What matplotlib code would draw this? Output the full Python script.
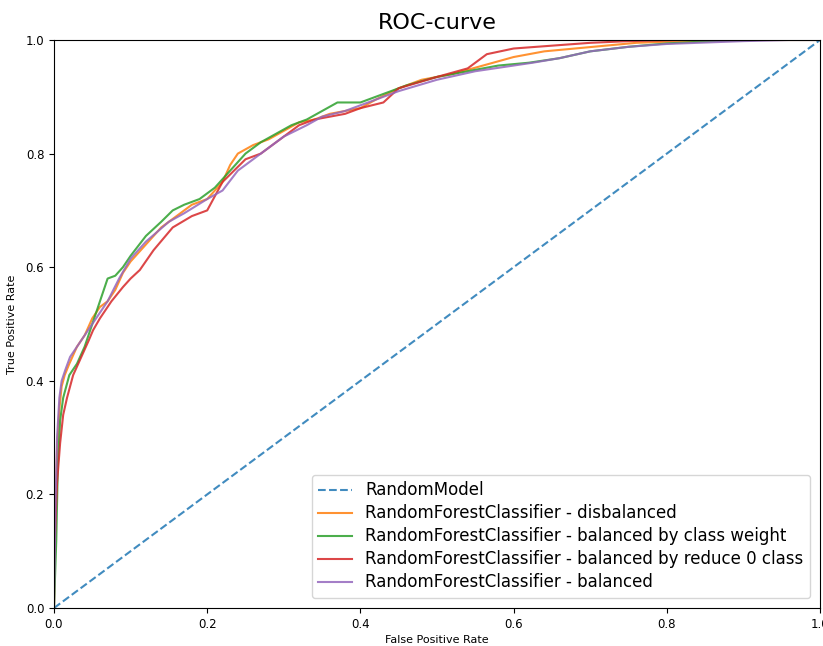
import matplotlib
matplotlib.use("Agg")
import matplotlib.pyplot as plt

# ROC curves
random_fpr = [0.0, 1.0]
random_tpr = [0.0, 1.0]

disb_fpr = [0, 0.002, 0.004, 0.007, 0.01, 0.014, 0.02, 0.03, 0.04, 0.05, 0.06, 0.07, 0.08, 0.09, 0.10,
            0.12, 0.14, 0.16, 0.18, 0.20, 0.22, 0.23, 0.24, 0.26, 0.28, 0.30, 0.32, 0.34, 0.36, 0.38,
            0.40, 0.42, 0.45, 0.48, 0.52, 0.56, 0.60, 0.64, 0.68, 0.72, 0.76, 0.80, 0.85, 0.90, 0.95, 1.0]
disb_tpr = [0, 0.15, 0.28, 0.35, 0.39, 0.41, 0.43, 0.46, 0.48, 0.51, 0.53, 0.54, 0.56, 0.59, 0.61,
            0.64, 0.67, 0.69, 0.71, 0.72, 0.75, 0.78, 0.80, 0.815, 0.825, 0.84, 0.855, 0.86, 0.87, 0.875,
            0.88, 0.895, 0.915, 0.93, 0.94, 0.955, 0.97, 0.98, 0.985, 0.99, 0.995, 0.997, 0.999, 1.0, 1.0, 1.0]

weight_fpr = [0, 0.003, 0.005, 0.008, 0.012, 0.02, 0.03, 0.04, 0.05, 0.06, 0.07, 0.08, 0.09, 0.10,
              0.12, 0.14, 0.155, 0.17, 0.19, 0.21, 0.23, 0.25, 0.27, 0.29, 0.31, 0.33, 0.35, 0.37,
              0.40, 0.43, 0.46, 0.50, 0.54, 0.58, 0.62, 0.66, 0.70, 0.75, 0.80, 0.86, 0.92, 1.0]
weight_tpr = [0, 0.12, 0.25, 0.33, 0.37, 0.41, 0.43, 0.46, 0.50, 0.54, 0.58, 0.585, 0.60, 0.62,
              0.655, 0.68, 0.70, 0.71, 0.72, 0.74, 0.77, 0.80, 0.82, 0.835, 0.85, 0.86, 0.875, 0.89,
              0.89, 0.905, 0.92, 0.935, 0.945, 0.955, 0.96, 0.968, 0.98, 0.988, 0.994, 0.998, 1.0, 1.0]

reduce_fpr = [0, 0.0, 0.004, 0.008, 0.012, 0.017, 0.025, 0.034, 0.045, 0.051, 0.06, 0.075, 0.09, 0.10,
              0.112, 0.13, 0.155, 0.18, 0.20, 0.22, 0.25, 0.27, 0.30, 0.32, 0.34, 0.38, 0.40, 0.43,
              0.45, 0.50, 0.54, 0.565, 0.60, 0.65, 0.70, 0.75, 0.82, 1.0]
reduce_tpr = [0, 0.08, 0.22, 0.29, 0.34, 0.37, 0.41, 0.437, 0.47, 0.489, 0.51, 0.54, 0.565, 0.58,
              0.595, 0.63, 0.67, 0.69, 0.70, 0.75, 0.79, 0.80, 0.83, 0.85, 0.86, 0.87, 0.88, 0.89,
              0.915, 0.935, 0.95, 0.975, 0.985, 0.99, 0.995, 0.998, 1.0, 1.0]

bal_fpr = [0, 0.002, 0.004, 0.007, 0.01, 0.015, 0.021, 0.03, 0.04, 0.05, 0.056, 0.07, 0.085, 0.10,
           0.12, 0.15, 0.17, 0.20, 0.22, 0.24, 0.26, 0.28, 0.30, 0.33, 0.35, 0.38, 0.40, 0.45,
           0.50, 0.55, 0.60, 0.625, 0.66, 0.70, 0.75, 0.80, 0.90, 0.96, 1.0]
bal_tpr = [0, 0.18, 0.30, 0.37, 0.40, 0.42, 0.442, 0.46, 0.48, 0.50, 0.512, 0.54, 0.58, 0.615,
           0.645, 0.68, 0.695, 0.72, 0.735, 0.77, 0.79, 0.81, 0.83, 0.85, 0.865, 0.875, 0.885, 0.91,
           0.93, 0.945, 0.955, 0.96, 0.968, 0.98, 0.988, 0.993, 0.998, 1.0, 1.0]

fig = plt.figure(figsize=(8.23, 6.46), dpi=100)
ax = fig.add_axes([0.0656, 0.0588, 0.9308, 0.8793])

ax.plot(random_fpr, random_tpr, linestyle='--', color='#1f77b4', alpha=0.85, label='RandomModel')
ax.plot(disb_fpr, disb_tpr, color='#ff7f0e', alpha=0.85, label='RandomForestClassifier - disbalanced')
ax.plot(weight_fpr, weight_tpr, color='#2ca02c', alpha=0.85, label='RandomForestClassifier - balanced by class weight')
ax.plot(reduce_fpr, reduce_tpr, color='#d62728', alpha=0.85, label='RandomForestClassifier - balanced by reduce 0 class')
ax.plot(bal_fpr, bal_tpr, color='#9467bd', alpha=0.85, label='RandomForestClassifier - balanced')

ax.set_xlim(0, 1)
ax.set_ylim(0, 1)
ax.set_xticks([0, 0.2, 0.4, 0.6, 0.8, 1.0])
ax.set_yticks([0, 0.2, 0.4, 0.6, 0.8, 1.0])
ax.tick_params(labelsize=8.5)
ax.set_xlabel('False Positive Rate', fontsize=8, labelpad=3)
ax.set_ylabel('True Positive Rate', fontsize=8, labelpad=6)
ax.set_title('ROC-curve', fontsize=16, pad=8)

ax.legend(loc='lower right', fontsize=12, borderaxespad=0.6, labelspacing=0.3)

fig.savefig('out.png', dpi=100)
